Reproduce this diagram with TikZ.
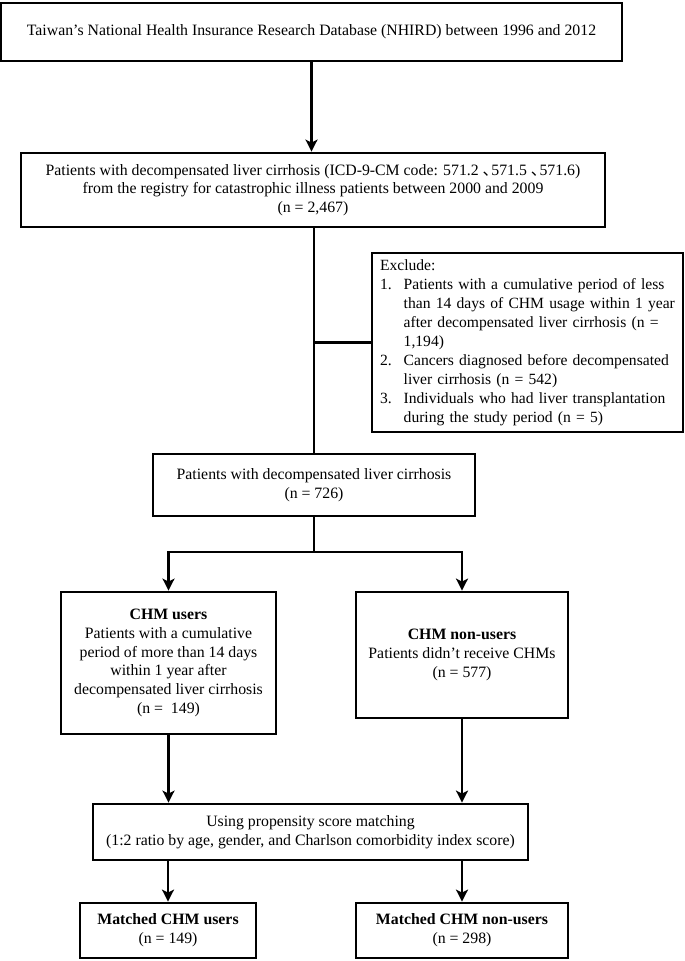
\documentclass[tikz,border=0pt]{standalone}
\usepackage{fontspec}
\setmainfont{Liberation Serif}
\newfontfamily\cjk{Noto Sans CJK SC}
\usetikzlibrary{arrows.meta}
\usetikzlibrary{positioning}

\begin{document}
\begin{tikzpicture}[%
  x=1pt, y=-1pt, line width=2.8pt,
  arr/.style={-{Stealth[length=12pt,width=12pt,inset=3pt]}},
  box/.style={draw, rectangle, align=center, inner sep=0pt,
    font=\fontsize{15.8}{18.8}\selectfont},
  excl box/.style={box, align=left, text width=295pt, inner xsep=8pt,
    font=\fontsize{15.6}{19}\selectfont}
  ]
  \useasboundingbox (0,0) rectangle (685,961);

  % Draw the source and cohort boxes
  \node[box, minimum width=621pt, minimum height=58pt] (db) at (311.5,32)
    {Taiwan's National Health Insurance Research Database (NHIRD) between 1996 and 2012};
  \node[box, minimum width=584pt, minimum height=74pt] (reg) at (313,190)
    {Patients with decompensated liver cirrhosis (ICD-9-CM code: 571.2\ {\cjk 、}\kern-0.45em571.5\ {\cjk 、}\kern-0.45em571.6)\\
     from the registry for catastrophic illness patients between 2000 and 2009\\
     (n = 2,467)};

  % Draw the exclusion box
  \node[excl box, minimum height=179pt] (excl) at (527.5,342.5)
    {\begin{tabular}{@{}l@{\hspace{12pt}}l@{}}
      \multicolumn{2}{@{}l@{}}{Exclude:}\\
      1. & Patients with a cumulative period of less\\
         & than 14 days of CHM usage within 1 year\\
         & after decompensated liver cirrhosis (n =\\
         & 1,194)\\
      2. & Cancers diagnosed before decompensated\\
         & liver cirrhosis (n = 542)\\
      3. & Individuals who had liver transplantation\\
         & during the study period (n = 5)
     \end{tabular}};

  \node[box, minimum width=322pt, minimum height=62pt] (sel) at (314,485)
    {Patients with decompensated liver cirrhosis\\(n = 726)};

  % Draw the two groups
  \node[box, minimum width=215pt, minimum height=142pt] (users) at (168.5,663)
    {\textbf{CHM users}\\Patients with a cumulative\\period of more than 14 days\\
     within 1 year after\\decompensated liver cirrhosis\\(n = \ 149)};
  \node[box, minimum width=212pt, minimum height=126pt] (nonusers) at (462,655)
    {\textbf{CHM non-users}\\Patients didn't receive CHMs\\(n = 577)};

  % Draw the matching and matched boxes
  \node[box, minimum width=435pt, minimum height=56pt] (psm) at (310.5,832)
    {Using propensity score matching\\
     (1:2 ratio by age, gender, and Charlson comorbidity index score)};
  \node[box, minimum width=176pt, minimum height=55pt] (m-users) at (168,930.5)
    {\textbf{Matched CHM users}\\(n = 149)};
  \node[box, minimum width=212pt, minimum height=55pt] (m-nonusers) at (462,930.5)
    {\textbf{Matched CHM non-users}\\(n = 298)};

  % Connect the boxes
  \coordinate (split) at (sel.south |- 0,552);
  \draw[arr] (db) -- (db |- reg.north);
  \draw (reg.south -| sel) -- (sel);
  \draw (excl.west) -- (excl.west -| sel);
  \draw (sel) -- (split);
  \draw[arr] (split) -| (users);
  \draw[arr] (split) -| (nonusers);
  \draw[arr] (users) -- (users |- psm.north);
  \draw[arr] (nonusers) -- (nonusers |- psm.north);
  \draw[arr] (psm.south -| m-users) -- (m-users);
  \draw[arr] (psm.south -| m-nonusers) -- (m-nonusers);
\end{tikzpicture}
\end{document}
